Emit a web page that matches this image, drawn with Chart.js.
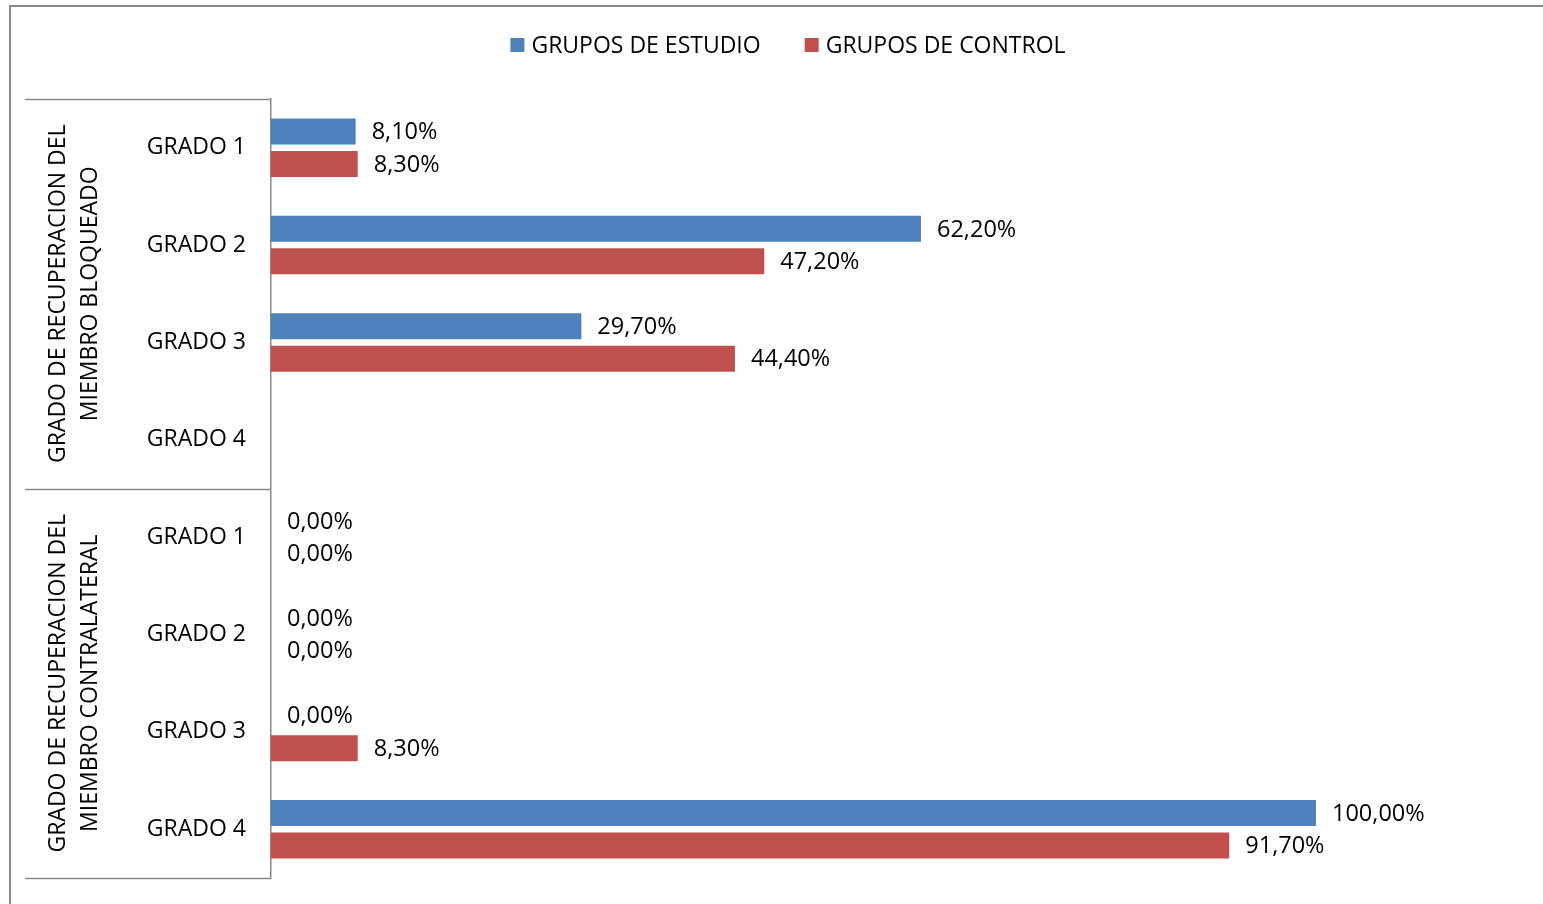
<!DOCTYPE html>
<html>
<head>
<meta charset="utf-8">
<script src="https://cdn.jsdelivr.net/npm/chart.js@4.4.0/dist/chart.umd.min.js"></script>
<style>
  html, body { margin: 0; padding: 0; background: #fff; }
  #marco { width: 1543px; height: 904px; position: relative; }
</style>
</head>
<body>
<div id="marco"><canvas id="grafico"></canvas></div>
<script>
// Categorías: dos grupos de cuatro grados cada uno
const grados = ['GRADO 1', 'GRADO 2', 'GRADO 3', 'GRADO 4'];
const grupos = [
    ['GRADO DE RECUPERACION DEL', 'MIEMBRO BLOQUEADO'],
    ['GRADO DE RECUPERACION DEL', 'MIEMBRO CONTRALATERAL']
];
const etiquetas = [...grados, ...grados];

// Porcentajes por serie (null = sin dato)
const grupoEstudio = [8.1, 62.2, 29.7, null, 0, 0, 0, 100];
const grupoControl = [8.3, 47.2, 44.4, null, 0, 0, 8.3, 91.7];

const fuente = "'Open Sans', 'DejaVu Sans', sans-serif";
const gris = '#8a8a8a';

// Formato 8,10%
function formatoPorcentaje(v) {
    return v.toFixed(2).replace('.', ',') + '%';
}

// Marco exterior del gráfico
const marcoPlugin = {
    id: 'marco',
    beforeDraw(chart) {
        const ctx = chart.ctx;
        ctx.save();
        ctx.strokeStyle = gris;
        ctx.lineWidth = 2;
        ctx.strokeRect(10, 6, 1600, 1000);
        ctx.restore();
    }
};

// Leyenda superior: cuadro de color + nombre de la serie
const leyendaPlugin = {
    id: 'leyendaSuperior',
    afterDraw(chart) {
        const ctx = chart.ctx;
        const caja = 14, hueco = 7, separacion = 44;
        ctx.save();
        ctx.font = '23px ' + fuente;
        ctx.textBaseline = 'middle';
        ctx.textAlign = 'left';
        const items = chart.data.datasets.map(ds => ({
            texto: ds.label,
            color: ds.backgroundColor,
            ancho: caja + hueco + ctx.measureText(ds.label).width
        }));
        const total = items.reduce((s, it) => s + it.ancho, 0) + separacion * (items.length - 1);
        let x = 788 - total / 2;
        const y = 45;
        items.forEach(it => {
            ctx.fillStyle = it.color;
            ctx.fillRect(x, y - caja / 2, caja, caja);
            ctx.fillStyle = '#000';
            ctx.fillText(it.texto, x + caja + hueco, y + 1);
            x += it.ancho + separacion;
        });
        ctx.restore();
    }
};

// Etiquetas de valor a la derecha de cada barra
const valoresPlugin = {
    id: 'valores',
    afterDatasetsDraw(chart) {
        const ctx = chart.ctx;
        ctx.save();
        ctx.font = '23.5px ' + fuente;
        ctx.fillStyle = '#000';
        ctx.textAlign = 'left';
        ctx.textBaseline = 'middle';
        chart.data.datasets.forEach((ds, i) => {
            const meta = chart.getDatasetMeta(i);
            meta.data.forEach((barra, j) => {
                const v = ds.data[j];
                if (v === null || v === undefined) return;
                ctx.fillText(formatoPorcentaje(v), barra.x + 16, barra.y + 1);
            });
        });
        ctx.restore();
    }
};

// Eje de categorías en dos niveles: líneas separadoras y títulos de grupo girados
const gruposPlugin = {
    id: 'grupos',
    afterDraw(chart) {
        const esc = chart.scales.y;
        const ctx = chart.ctx;
        const izq = 25;
        const der = chart.chartArea.left;
        const n = grados.length;
        const limites = [esc.top];
        for (let g = 1; g < grupos.length; g++) {
            const a = esc.getPixelForTick(g * n - 1);
            const b = esc.getPixelForTick(g * n);
            limites.push((a + b) / 2);
        }
        limites.push(esc.bottom);

        ctx.save();
        ctx.strokeStyle = gris;
        ctx.lineWidth = 1.5;
        limites.forEach(y => {
            ctx.beginPath();
            ctx.moveTo(izq, Math.round(y) + 0.5);
            ctx.lineTo(der, Math.round(y) + 0.5);
            ctx.stroke();
        });

        ctx.font = '23px ' + fuente;
        ctx.fillStyle = '#000';
        ctx.textAlign = 'center';
        ctx.textBaseline = 'middle';
        grupos.forEach((lineas, g) => {
            const centro = (limites[g] + limites[g + 1]) / 2;
            lineas.forEach((texto, k) => {
                ctx.save();
                ctx.translate(58 + k * 32, centro);
                ctx.rotate(-Math.PI / 2);
                ctx.fillText(texto, 0, 0);
                ctx.restore();
            });
        });
        ctx.restore();
    }
};

new Chart(document.getElementById('grafico'), {
    type: 'bar',
    data: {
        labels: etiquetas,
        datasets: [
            {
                label: 'GRUPOS DE ESTUDIO',
                data: grupoEstudio,
                backgroundColor: '#4F81BD',
                categoryPercentage: 0.667,
                barPercentage: 0.8
            },
            {
                label: 'GRUPOS DE CONTROL',
                data: grupoControl,
                backgroundColor: '#C0504D',
                categoryPercentage: 0.667,
                barPercentage: 0.8
            }
        ]
    },
    options: {
        indexAxis: 'y',
        responsive: true,
        maintainAspectRatio: false,
        animation: false,
        layout: {
            padding: { top: 99, right: 18, bottom: 26, left: 0 }
        },
        plugins: {
            legend: { display: false },
            tooltip: { enabled: false }
        },
        scales: {
            x: {
                display: false,
                min: 0,
                max: 120
            },
            y: {
                grid: { display: false },
                border: { display: true, color: gris, width: 1.5 },
                ticks: {
                    color: '#000',
                    padding: 17,
                    font: { family: fuente, size: 23 }
                },
                afterFit(escala) {
                    // ancho fijo del eje y sin relleno vertical extra
                    escala.width = 271;
                    escala.paddingTop = 0;
                    escala.paddingBottom = 0;
                }
            }
        }
    },
    plugins: [marcoPlugin, valoresPlugin, gruposPlugin, leyendaPlugin]
});
</script>
</body>
</html>
